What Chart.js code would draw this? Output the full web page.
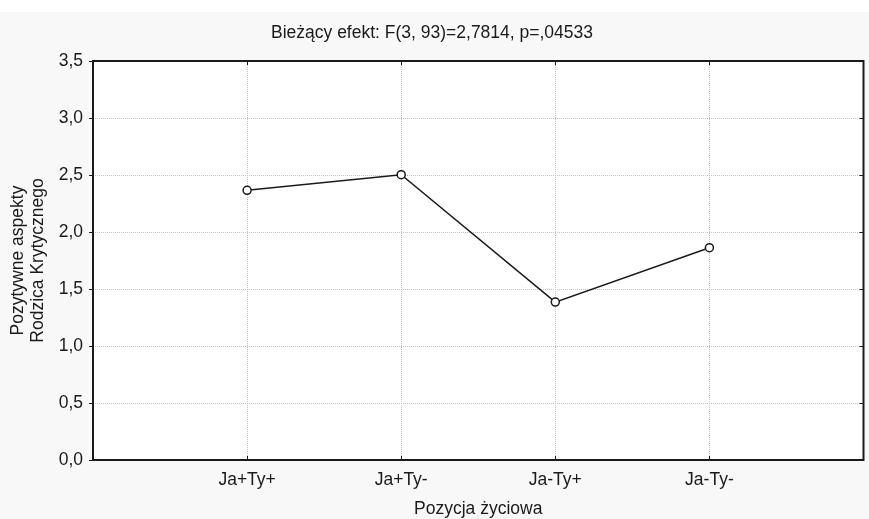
<!DOCTYPE html>
<html lang="pl">
<head>
<meta charset="UTF-8">
<title>Pozytywne aspekty Rodzica Krytycznego</title>
<script src="https://cdn.jsdelivr.net/npm/chart.js"></script>
<style>
  html, body { margin: 0; padding: 0; background: #f8f8f8; }
  #wrap { width: 869px; height: 519px; position: relative; }
</style>
</head>
<body>
<div id="wrap"><canvas id="wykres"></canvas></div>
<script>
  // dane
  const kategorie = ['Ja+Ty+', 'Ja+Ty-', 'Ja-Ty+', 'Ja-Ty-'];
  const srednie = [2.366, 2.503, 1.385, 1.862];
  const yTicks = [0, 0.5, 1, 1.5, 2, 2.5, 3, 3.5];
  const tytul = 'Bieżący efekt: F(3, 93)=2,7814, p=,04533';
  const tytulOsiY = ['Pozytywne aspekty', 'Rodzica Krytycznego'];
  const tytulOsiX = 'Pozycja życiowa';

  const czcionka = "'Liberation Sans', Arial, sans-serif";
  const rozmiar = 17.5;
  const ciemny = '#1a1a1a';

  // tlo: szary papier, biały pasek u góry, białe pole wykresu
  const tlo = {
    id: 'tlo',
    beforeDraw(chart) {
      const { ctx, width, height, chartArea: a } = chart;
      ctx.save();
      ctx.fillStyle = '#f8f8f8';
      ctx.fillRect(0, 0, width, height);
      ctx.fillStyle = '#ffffff';
      ctx.fillRect(0, 0, width, 12);
      ctx.fillRect(a.left, a.top, a.right - a.left, a.bottom - a.top);
      ctx.restore();
    }
  };

  // ramka + male kreski do srodka
  const ramka = {
    id: 'ramka',
    afterDraw(chart) {
      const { ctx, chartArea: a, scales } = chart;
      ctx.save();
      ctx.strokeStyle = ciemny;
      ctx.lineWidth = 1;
      ctx.beginPath();
      scales.x.ticks.forEach(t => {
        const px = Math.round(scales.x.getPixelForValue(t.value)) + 0.5;
        ctx.moveTo(px, a.bottom); ctx.lineTo(px, a.bottom - 4);
        ctx.moveTo(px, a.top); ctx.lineTo(px, a.top + 4);
      });
      scales.y.ticks.forEach(t => {
        const py = Math.round(scales.y.getPixelForValue(t.value)) + 0.5;
        ctx.moveTo(a.right, py); ctx.lineTo(a.right - 4, py);
      });
      ctx.stroke();
      ctx.lineWidth = 2;
      ctx.strokeRect(a.left, a.top, a.right - a.left, a.bottom - a.top);
      ctx.restore();
    }
  };

  const ctx = document.getElementById('wykres').getContext('2d');
  new Chart(ctx, {
    type: 'line',
    data: {
      datasets: [{
        data: srednie.map((v, i) => ({ x: i + 1, y: v })),
        borderColor: ciemny,
        borderWidth: 1.5,
        pointRadius: 4,
        pointBackgroundColor: '#ffffff',
        pointBorderColor: ciemny,
        pointBorderWidth: 1.5,
        tension: 0,
        fill: false
      }]
    },
    options: {
      responsive: true,
      maintainAspectRatio: false,
      animation: false,
      layout: { padding: { left: 0, right: 5, top: 0, bottom: 0 } },
      plugins: {
        legend: { display: false },
        tooltip: { enabled: false },
        title: {
          display: true,
          text: tytul,
          color: ciemny,
          font: { family: czcionka, size: rozmiar, weight: 'normal', lineHeight: 1.2 },
          padding: { top: 23, bottom: 17 }
        }
      },
      scales: {
        x: {
          type: 'linear',
          min: 0,
          max: kategorie.length + 1,
          afterBuildTicks: s => { s.ticks = kategorie.map((k, i) => ({ value: i + 1 })); },
          afterFit: s => { s.height = 59; },
          ticks: {
            callback: v => kategorie[v - 1] || '',
            color: ciemny,
            font: { family: czcionka, size: rozmiar },
            padding: 10,
            maxRotation: 0,
            autoSkip: false
          },
          grid: { color: '#c4c4c4', lineWidth: 1, drawTicks: false, tickLength: 0 },
          border: { display: false, dash: [1, 1] },
          title: {
            display: true,
            text: tytulOsiX,
            color: ciemny,
            font: { family: czcionka, size: rozmiar, lineHeight: 1.2 },
            padding: { top: 0, bottom: -1 }
          }
        },
        y: {
          min: 0,
          max: 3.5,
          afterBuildTicks: s => { s.ticks = yTicks.map(v => ({ value: v })); },
          afterFit: s => { s.width = 93; },
          ticks: {
            callback: v => v.toFixed(1).replace('.', ','),
            color: ciemny,
            font: { family: czcionka, size: rozmiar },
            padding: 6
          },
          grid: {
            color: '#c4c4c4', lineWidth: 1, drawTicks: true, tickLength: 4,
            tickColor: ciemny, tickWidth: 1, tickBorderDash: []
          },
          border: { display: false, dash: [1, 1] },
          title: {
            display: true,
            text: tytulOsiY,
            color: ciemny,
            font: { family: czcionka, size: rozmiar, lineHeight: 1.15 },
            padding: { top: 8, bottom: 0 }
          }
        }
      }
    },
    plugins: [tlo, ramka]
  });
</script>
</body>
</html>
